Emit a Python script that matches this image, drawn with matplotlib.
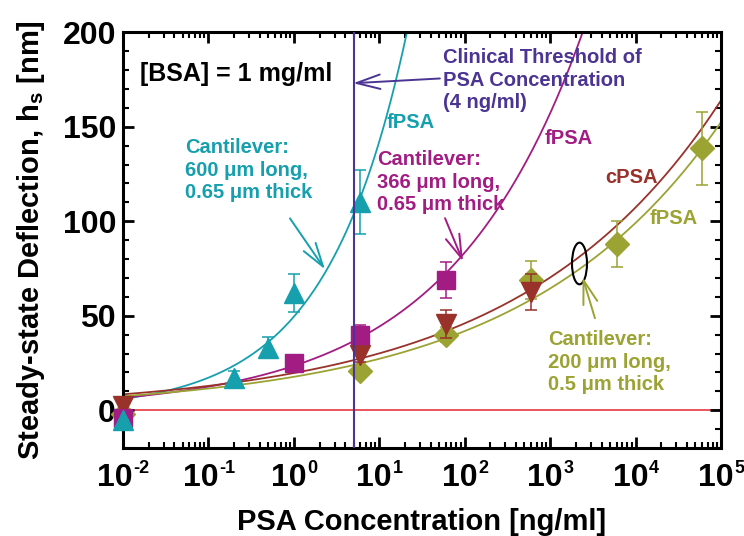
import numpy as np
import matplotlib
matplotlib.use("Agg")
import matplotlib.pyplot as plt
from matplotlib.path import Path
from matplotlib.transforms import Affine2D
from matplotlib.ticker import FixedLocator, MultipleLocator, LogLocator, NullFormatter

plt.rcParams['font.family'] = ['Liberation Sans', 'DejaVu Sans']
plt.rcParams['font.weight'] = 'bold'
plt.rcParams['mathtext.fontset'] = 'custom'
plt.rcParams['mathtext.rm'] = 'Liberation Sans:bold'
plt.rcParams['mathtext.bf'] = 'Liberation Sans:bold'
plt.rcParams['mathtext.it'] = 'Liberation Sans:bold'

# ---- data ----
# 600 um cantilever (fPSA)
x_600 = [0.01, 0.2, 0.5, 1.0, 6.0]
y_600 = [-5, 17, 33, 62, 110]
e_600 = [0, 4, 5.5, 10, 17]
# 366 um cantilever (fPSA)
x_366 = [0.01, 1.0, 6.0, 60.0]
y_366 = [-4, 25, 40, 69]
e_366 = [0, 0, 5, 9.5]
# 200 um cantilever (cPSA)
x_200c = [0.01, 6.0, 60.0, 600.0]
y_200c = [2.5, 29, 45.5, 62.5]
e_200c = [0, 3.5, 7.5, 9.5]
# 200 um cantilever (fPSA)
x_200f = [0.01, 6.0, 60.0, 600.0, 6000.0, 60000.0]
y_200f = [-2, 21, 40, 69, 88, 138.5]
e_200f = [0, 0, 4, 10, 12, 19.5]

# fitted power-law curves  y = A * x**n
fit_600 = [49.5, 0.458]
fit_366 = [23.5, 0.275]
fit_200c = [19.7, 0.184]
fit_200f = [17.7, 0.187]

x_exponents = [-2, -1, 0, 1, 2, 3, 4, 5]
y_ticks = [0, 50, 100, 150, 200]

threshold_x = 5.0
ellipse_xy = (2200.0, 78.0)

c_cyan = '#16a0ae'
c_mag = '#a21c84'
c_brown = '#98322a'
c_olive = '#9ba333'
c_purple = '#4b3493'
c_red = '#e8474f'

fig = plt.figure(figsize=(7.44, 5.36), dpi=100)
ax = fig.add_axes([0.1653, 0.164, 0.8037, 0.776])
ax.set_xscale('log')
ax.set_xlim(1e-2, 1e5)
ax.set_ylim(-20, 200)

# zero line and threshold line
ax.axhline(0, color=c_red, lw=1.3, zorder=1)
ax.axvline(threshold_x, color=c_purple, lw=1.5, zorder=4)

xs = np.logspace(-2, 5, 600)
for (A, n), col in [(fit_600, c_cyan), (fit_366, c_mag), (fit_200c, c_brown), (fit_200f, c_olive)]:
    ax.plot(xs, A * xs ** n, color=col, lw=1.3, zorder=2)

def series(x, y, e, col, mk, ms):
    ax.errorbar(x, y, yerr=e, fmt='none', ecolor=col, elinewidth=1.1, capsize=4.5, capthick=1.1, zorder=3)
    ax.plot(x, y, linestyle='none', marker=mk, ms=ms, color=col, mec=col, zorder=3, clip_on=False)

series(x_200f, y_200f, e_200f, c_olive, 'D', 12.5)
series(x_200c, y_200c, e_200c, c_brown, 'v', 15)
series(x_366, y_366, e_366, c_mag, 's', 13)
series(x_600, y_600, e_600, c_cyan, '^', 15)

# ellipse marker
ell = Path.unit_circle().transformed(Affine2D().scale(0.36, 1.0))
ax.plot([ellipse_xy[0]], [ellipse_xy[1]], linestyle='none', marker=ell, ms=30,
        mfc='none', mec='black', mew=1.5, zorder=5)

# texts
fs = 14.5
ls = 1.24
ax.text(10 ** -1.80, 177.8, '[BSA] = 1 mg/ml', fontsize=18, ha='left', va='center', color='black')
ax.text(10 ** -1.27, 127, 'Cantilever:\n600 \u03bcm long,\n0.65 \u03bcm thick', fontsize=fs, color=c_cyan,
        ha='left', va='center', linespacing=ls)
ax.text(10 ** 1.09, 152.4, 'fPSA', fontsize=fs, color=c_cyan, ha='left', va='center')
ax.text(10 ** 0.97, 120.6, 'Cantilever:\n366 \u03bcm long,\n0.65 \u03bcm thick', fontsize=fs, color=c_mag,
        ha='left', va='center', linespacing=ls)
ax.text(10 ** 2.94, 144, 'fPSA', fontsize=fs, color=c_mag, ha='left', va='center')
ax.text(10 ** 1.75, 174.6, 'Clinical Threshold of\nPSA Concentration\n(4 ng/ml)', fontsize=fs, color=c_purple,
        ha='left', va='center', linespacing=ls)
ax.text(10 ** 3.64, 123, 'cPSA', fontsize=fs, color=c_brown, ha='left', va='center')
ax.text(10 ** 4.17, 101.6, 'fPSA', fontsize=fs, color=c_olive, ha='left', va='center')
ax.text(10 ** 2.975, 25.4, 'Cantilever:\n200 \u03bcm long,\n0.5 \u03bcm thick', fontsize=fs, color=c_olive,
        ha='left', va='center', linespacing=ls)

def arrow(tail, tip, col):
    ax.annotate('', xy=(10 ** tip[0], tip[1]), xytext=(10 ** tail[0], tail[1]),
                arrowprops=dict(arrowstyle='->,head_length=0.85,head_width=0.26', color=col, lw=1.4,
                                mutation_scale=20, shrinkA=0, shrinkB=0), zorder=6)

arrow((-0.045, 101.5), (0.364, 74.6), c_cyan)
arrow((1.77, 101.6), (1.98, 78.8), c_mag)
arrow((1.71, 175.5), (0.695, 173), c_purple)
arrow((3.525, 48.7), (3.38, 70.4), c_olive)

# axes styling
for sp in ax.spines.values():
    sp.set_linewidth(2.2)
ax.yaxis.set_major_locator(FixedLocator(y_ticks))
ax.yaxis.set_minor_locator(MultipleLocator(10))
ax.set_xticks([10.0 ** e for e in x_exponents])
ax.xaxis.set_minor_locator(LogLocator(base=10, subs=np.arange(2, 10), numticks=20))
ax.xaxis.set_minor_formatter(NullFormatter())
ax.tick_params(which='both', direction='in', top=True, right=True)
ax.tick_params(which='major', length=8, width=2, labelsize=23)
ax.tick_params(axis='y', which='major', pad=5)
ax.tick_params(axis='x', which='major', labelbottom=False)
ax.tick_params(which='minor', length=4.5, width=1.5)
for lab in ax.get_yticklabels():
    lab.set_fontweight('bold')

# x tick labels: "10" with a small raised exponent
base_fs = 23
exp_fs = 13
w_base = 1.112 * base_fs
for e in x_exponents:
    s = ('-%d' % -e) if e < 0 else '%d' % e
    w_exp = (0.333 * (e < 0) + 0.556) * exp_fs
    dx = (w_base - w_exp) / 2.0
    ax.annotate('10', xy=(10.0 ** e, 0), xycoords=('data', 'axes fraction'),
                xytext=(dx, -10.5), textcoords='offset points', ha='right', va='top',
                fontsize=base_fs, fontweight='bold', annotation_clip=False)
    ax.annotate(s, xy=(10.0 ** e, 0), xycoords=('data', 'axes fraction'),
                xytext=(dx + 0.5, -8.5), textcoords='offset points', ha='left', va='top',
                fontsize=exp_fs, fontweight='bold', annotation_clip=False)

ax.set_xlabel('PSA Concentration [ng/ml]', fontsize=21, fontweight='bold')
ax.xaxis.set_label_coords(0.5, -0.143)
ax.set_ylabel('Steady-state Deflection, h$_\\mathbf{s}$ [nm]', fontsize=21, fontweight='bold', labelpad=11)

fig.savefig('out.png', dpi=100)
